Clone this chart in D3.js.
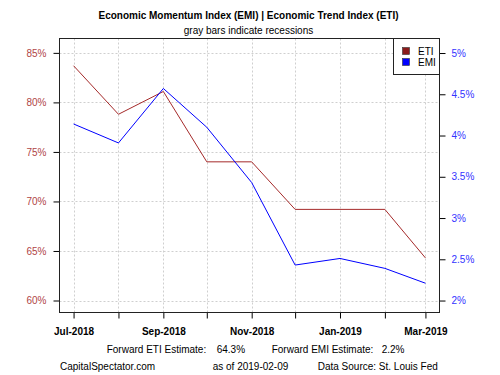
<!DOCTYPE html>
<html><head><meta charset="utf-8">
<script src="https://cdn.jsdelivr.net/npm/d3@7"></script>
<style>body{margin:0;background:#fff}svg{display:block;font-family:"Liberation Sans",Arial,sans-serif}</style>
</head><body>
<svg id="c" width="500" height="375"></svg>
<script>
const months = ["2018-07-01","2018-08-01","2018-09-01","2018-10-01","2018-11-01","2018-12-01","2019-01-01","2019-02-01","2019-03-01"];
const etiValues = [83.7, 78.8, 81.1, 74.0, 74.0, 69.2, 69.2, 69.2, 64.3];
const emiValues = [4.14, 3.91, 4.57, 4.10, 3.43, 2.43, 2.51, 2.39, 2.21];
const leftTicks = [60, 65, 70, 75, 80, 85];
const rightTicks = [2, 2.5, 3, 3.5, 4, 4.5, 5];
const labeledMonths = ["2018-07-01","2018-09-01","2018-11-01","2019-01-01","2019-03-01"];
const titleText = "Economic Momentum Index (EMI) | Economic Trend Index (ETI)";
const subtitleText = "gray bars indicate recessions";
const footer1 = [["Forward ETI Estimate:", 106.7], ["64.3%", 216.7], ["Forward EMI Estimate:", 271.7], ["2.2%", 381.7]];
const footer2 = [["CapitalSpectator.com", 60], ["as of 2019-02-09", 212.7], ["Data Source: St. Louis Fed", 317.7]];

const parse = d3.utcParse("%Y-%m-%d");
const dates = months.map(parse);
const svg = d3.select("#c");
const L = 59.5, R = 439.5, T = 38.5, B = 312.5;
const etiCol = "#a52a2a", emiCol = "#0000ff";
const FS = 10;

const t0 = dates[0], t1 = dates[dates.length-1];
const span = t1 - t0;
const x = d3.scaleUtc().domain([new Date(+t0 - 0.04*span), new Date(+t1 + 0.04*span)]).range([L, R]);
const yL = d3.scaleLinear().domain([58.79, 86.45]).range([B, T]);
const yR = d3.scaleLinear().domain([1.855, 5.176]).range([B, T]);

// gridlines
const g = svg.append("g").attr("stroke", "#cfcfcf").attr("stroke-dasharray", "2,2").attr("stroke-width", 1);
dates.forEach(d => g.append("line").attr("x1", Math.round(x(d))+0.5).attr("x2", Math.round(x(d))+0.5).attr("y1", T).attr("y2", B));
leftTicks.forEach(v => g.append("line").attr("x1", L).attr("x2", R).attr("y1", Math.round(yL(v))+0.5).attr("y2", Math.round(yL(v))+0.5));

// lines
svg.append("path").datum(etiValues).attr("fill","none").attr("stroke", etiCol).attr("stroke-width",1)
  .attr("d", d3.line().x((d,i)=>x(dates[i])).y(d=>yL(d)));
svg.append("path").datum(emiValues).attr("fill","none").attr("stroke", emiCol).attr("stroke-width",1)
  .attr("d", d3.line().x((d,i)=>x(dates[i])).y(d=>yR(d)));

// axes
const axL = svg.append("g").attr("transform", `translate(${L},0)`)
  .call(d3.axisLeft(yL).tickValues(leftTicks).tickSize(6).tickPadding(7).tickFormat(d => d + "%"));
axL.select(".domain").remove();
axL.selectAll("text").attr("fill", "#b04545").attr("font-size", FS).attr("font-family", "Liberation Sans, Arial, sans-serif");
const axR = svg.append("g").attr("transform", `translate(${R},0)`)
  .call(d3.axisRight(yR).tickValues(rightTicks).tickSize(6).tickPadding(6).tickFormat(d => d + "%"));
axR.select(".domain").remove();
axR.selectAll("text").attr("fill", "#3333ff").attr("font-size", FS).attr("font-family", "Liberation Sans, Arial, sans-serif");
const labelSet = new Set(labeledMonths);
const fmt = d3.utcFormat("%b-%Y");
const axB = svg.append("g").attr("transform", `translate(0,${B})`)
  .call(d3.axisBottom(x).tickValues(dates).tickSize(6).tickPadding(9)
    .tickFormat((d,i) => labelSet.has(months[i]) ? fmt(d) : ""));
axB.select(".domain").remove();
axB.selectAll("text").attr("fill", "#000").attr("font-size", FS).attr("font-weight", "bold").attr("font-family", "Liberation Sans, Arial, sans-serif");
svg.selectAll(".tick line").attr("stroke", "#000");

// box
svg.append("rect").attr("x", L).attr("y", T).attr("width", R-L).attr("height", B-T).attr("fill","none").attr("stroke","#222");

// legend
const lg = svg.append("g");
lg.append("rect").attr("x", 393.5).attr("y", T).attr("width", R-393.5).attr("height", 36).attr("fill","#fff").attr("stroke","#222");
[["ETI", "#8b1a1a", 47.5], ["EMI", emiCol, 58.5]].forEach(([name, col, yy]) => {
  lg.append("rect").attr("x", 402.5).attr("y", yy).attr("width", 7).attr("height", 7).attr("fill", col).attr("stroke", "#333").attr("stroke-width", 0.6);
  lg.append("text").attr("x", 418).attr("y", yy + 7.5).attr("font-size", FS).text(name);
});

// titles
svg.append("text").attr("x", 248.5).attr("y", 19.3).attr("text-anchor","middle").attr("font-size", FS).attr("font-weight","bold").text(titleText);
svg.append("text").attr("x", 248.5).attr("y", 34.3).attr("text-anchor","middle").attr("font-size", FS).text(subtitleText);

// footers
footer1.forEach(([t, xx]) => svg.append("text").attr("x", xx).attr("y", 352.5).attr("font-size", FS).text(t));
footer2.forEach(([t, xx]) => svg.append("text").attr("x", xx).attr("y", 370.3).attr("font-size", FS).text(t));
</script>
</body></html>
